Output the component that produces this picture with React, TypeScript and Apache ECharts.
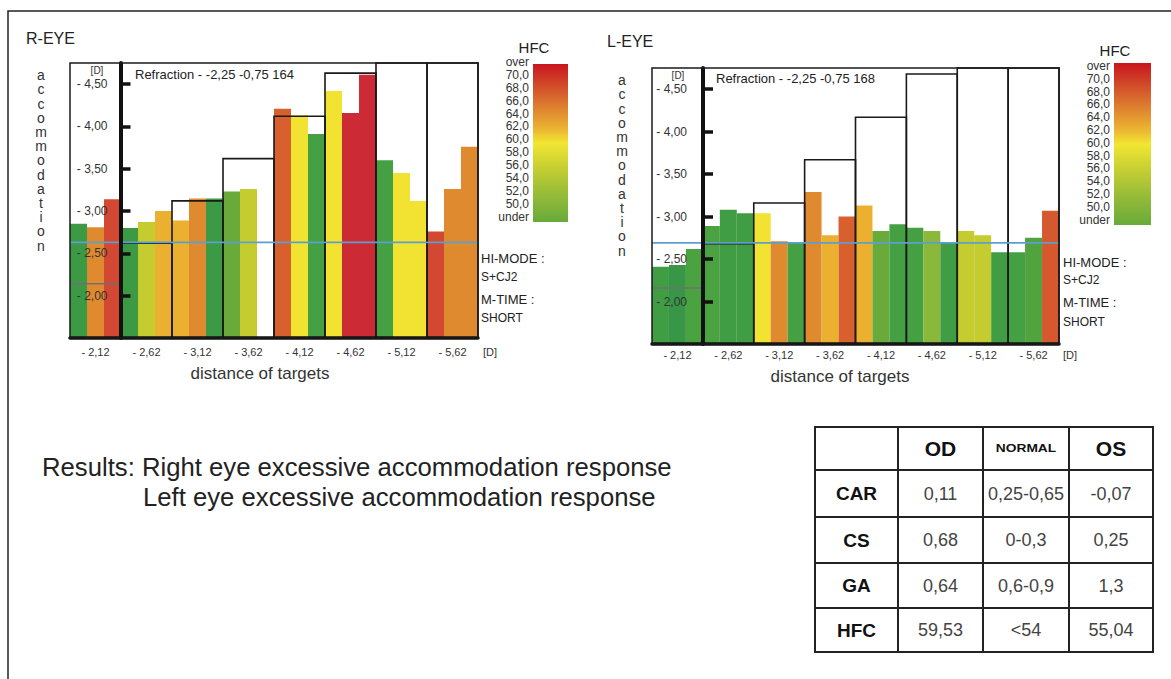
import React, { useEffect, useRef } from 'react';
import * as echarts from 'echarts';

const FONT = '"Liberation Sans", Arial, Helvetica, sans-serif';

// ---------- data ----------
const TARGETS = ['- 2,12', '- 2,62', '- 3,12', '- 3,62', '- 4,12', '- 4,62', '- 5,12', '- 5,62'];
const Y_TICKS = [2, 2.5, 3, 3.5, 4, 4.5];
const Y_MIN = 1.5;
const Y_MAX = 4.75;

// accommodation response (D, magnitude), 3 measurements per target
const R_ACC = [
  [2.85, 2.81, 3.14],
  [2.8, 2.87, 3.0],
  [2.89, 3.15, 3.15],
  [3.23, 3.26, null],
  [4.21, 4.13, 3.91],
  [4.42, 4.16, 4.61],
  [3.6, 3.45, 3.12],
  [2.76, 3.26, 3.76],
];
const R_HFC = [
  [48, 66, 69.5],
  [48, 57, 63.5],
  [63.5, 66, 48],
  [52, 57, null],
  [68, 60, 49],
  [60, 72, 72],
  [49, 60, 60],
  [69.5, 66, 66],
];
const R_TARGET = [2.14, 2.62, 3.12, 3.62, 4.12, 4.63, 5.12, 5.62];
const R_REF = 2.63;

const L_ACC = [
  [2.41, 2.43, 2.62],
  [2.89, 3.08, 3.04],
  [3.04, 2.71, 2.69],
  [3.29, 2.78, 3.0],
  [3.13, 2.83, 2.91],
  [2.87, 2.83, 2.69],
  [2.83, 2.78, 2.58],
  [2.58, 2.75, 3.07],
];
const L_HFC = [
  [48.5, 47.5, 49.5],
  [49.5, 48.5, 48.5],
  [60, 66, 49],
  [66, 63.5, 68],
  [63.5, 52, 49],
  [49, 54, 48.5],
  [57, 57, 48.5],
  [49, 50, 68.5],
];
const L_TARGET = [2.16, 2.68, 3.16, 3.67, 4.17, 4.68, 5.12, 5.62];
const L_REF = 2.69;

const HFC_LABELS = ['over', '70,0', '68,0', '66,0', '64,0', '62,0', '60,0', '58,0', '56,0', '54,0', '52,0', '50,0', 'under'];

const TABLE_HEAD = ['', 'OD', 'NORMAL', 'OS'];
const TABLE_ROWS = ['CAR', 'CS', 'GA', 'HFC'];
const TABLE_OD = ['0,11', '0,68', '0,64', '59,53'];
const TABLE_NORMAL = ['0,25-0,65', '0-0,3', '0,6-0,9', '<54'];
const TABLE_OS = ['-0,07', '0,25', '1,3', '55,04'];

// ---------- colour scale ----------
const HFC_STOPS: [number, string][] = [
  [47, '#339448'],
  [49, '#44a042'],
  [52, '#6aaa3a'],
  [54, '#8ab83a'],
  [57, '#c4cc30'],
  [60, '#f2e232'],
  [63.5, '#ebb030'],
  [66, '#e08a30'],
  [68, '#d8602e'],
  [69.5, '#d24832'],
  [72, '#cc2a35'],
];
function hex(c: string) {
  return [1, 3, 5].map((i) => parseInt(c.slice(i, i + 2), 16));
}
function hfcColor(h: number) {
  if (h <= HFC_STOPS[0][0]) return HFC_STOPS[0][1];
  for (let i = 1; i < HFC_STOPS.length; i++) {
    const [v1, c1] = HFC_STOPS[i];
    if (h <= v1) {
      const [v0, c0] = HFC_STOPS[i - 1];
      const t = (h - v0) / (v1 - v0);
      const a = hex(c0), b = hex(c1);
      const m = a.map((x, j) => Math.round(x + (b[j] - x) * t));
      return `rgb(${m[0]},${m[1]},${m[2]})`;
    }
  }
  return HFC_STOPS[HFC_STOPS.length - 1][1];
}

// ---------- helpers ----------
function T(x: number, y: number, text: string, o: any = {}) {
  const align = o.align ?? 'left';
  const va = o.va ?? 'middle';
  return {
    type: 'text',
    x,
    y,
    z: 100,
    silent: true,
    scaleX: o.scaleX ?? 1,
    style: {
      text,
      fill: o.fill ?? '#333',
      fontSize: o.size ?? 12,
      fontFamily: FONT,
      fontWeight: o.weight ?? 'normal',
      align,
      verticalAlign: va,
      textAlign: align,
      textVerticalAlign: va,
      lineHeight: o.lh,
    },
  };
}

const PANELS = [
  {
    grid: { left: 70, top: 63, width: 408, height: 275 },
    axisOffset: -50.5,
    yLabelMargin: 13,
    xLabelMargin: 8,
    acc: R_ACC,
    hfc: R_HFC,
    target: R_TARGET,
    ref: R_REF,
  },
  {
    grid: { left: 652, top: 68, width: 407, height: 276 },
    axisOffset: -51,
    yLabelMargin: 16,
    xLabelMargin: 5,
    acc: L_ACC,
    hfc: L_HFC,
    target: L_TARGET,
    ref: L_REF,
  },
];

function buildOption() {
  const grid: any[] = [];
  const xAxis: any[] = [];
  const yAxis: any[] = [];
  const series: any[] = [];
  const graphic: any[] = [];

  PANELS.forEach((p, i) => {
    grid.push({ ...p.grid, show: false });
    xAxis.push({
      type: 'category',
      gridIndex: i,
      data: TARGETS,
      boundaryGap: true,
      z: 10,
      axisLine: { lineStyle: { color: '#111', width: 3.5 } },
      axisTick: { inside: true, length: 7, lineStyle: { color: '#111', width: 3 } },
      axisLabel: { interval: 0, color: '#333', fontSize: 11, fontFamily: FONT, margin: p.xLabelMargin },
      splitLine: { show: false },
    });
    yAxis.push({
      type: 'value',
      gridIndex: i,
      min: Y_MIN,
      max: Y_MAX,
      position: 'left',
      offset: p.axisOffset,
      z: 10,
      splitLine: { show: false },
      axisLine: { show: true, lineStyle: { color: '#111', width: 4 } },
      axisTick: { show: true, inside: true, length: 10, customValues: Y_TICKS, lineStyle: { color: '#111', width: 3.5 } },
      axisLabel: {
        customValues: Y_TICKS,
        margin: p.yLabelMargin,
        color: '#333',
        fontSize: 12,
        fontFamily: FONT,
        formatter: (v: number) => '- ' + v.toFixed(2).replace('.', ','),
      },
    });
    for (let j = 0; j < 3; j++) {
      series.push({
        type: 'bar',
        xAxisIndex: i,
        yAxisIndex: i,
        barGap: '0%',
        barCategoryGap: '0%',
        z: 2,
        silent: true,
        data: p.acc.map((g, k) =>
          g[j] == null ? '-' : { value: g[j], itemStyle: { color: hfcColor(p.hfc[k][j] as number) } }
        ),
      });
    }
    // target demand boxes
    series.push({
      type: 'custom',
      xAxisIndex: i,
      yAxisIndex: i,
      z: 5,
      silent: true,
      data: p.target.map((t, k) => [k, t]),
      renderItem: (params: any, api: any) => {
        const cs = params.coordSys;
        const k = api.value(0);
        const v = api.value(1);
        const w = api.size([1, 0])[0];
        const c = api.coord([k, v]);
        const x0 = c[0] - w / 2;
        const x1 = c[0] + w / 2;
        const yTop = Math.max(c[1], cs.y);
        const yBot = cs.y + cs.height;
        if (k === 0) {
          return {
            type: 'line',
            shape: { x1: x0, y1: yTop, x2: x1, y2: yTop },
            style: { stroke: '#707070', lineWidth: 1.5 },
          };
        }
        return {
          type: 'polyline',
          shape: { points: [[x0, yBot], [x0, yTop], [x1, yTop], [x1, yBot]] },
          style: { stroke: '#1a1a1a', lineWidth: 1.6, fill: 'none' },
        };
      },
    });
    // reference (blue) line, drawn above the boxes
    series.push({
      type: 'custom',
      xAxisIndex: i,
      yAxisIndex: i,
      z: 6,
      silent: true,
      data: [[0, p.ref]],
      renderItem: (params: any, api: any) => {
        const cs = params.coordSys;
        const y = api.coord([0, api.value(1)])[1];
        return {
          type: 'line',
          shape: { x1: cs.x, y1: y, x2: cs.x + cs.width, y2: y },
          style: { stroke: '#5c9fcf', lineWidth: 1.8 },
        };
      },
    });
    // frame
    graphic.push({
      type: 'rect',
      z: 90,
      silent: true,
      shape: { x: p.grid.left, y: p.grid.top, width: p.grid.width, height: p.grid.height },
      style: { fill: 'none', stroke: '#1a1a1a', lineWidth: 1.5 },
    });
  });

  // page border (top & left visible)
  graphic.push({
    type: 'rect',
    z: 1,
    silent: true,
    shape: { x: 8, y: 11, width: 1300, height: 800 },
    style: { fill: 'none', stroke: '#222', lineWidth: 1.5 },
  });

  const legendGrad = () =>
    new echarts.graphic.LinearGradient(0, 0, 0, 1, [
      { offset: 0, color: '#c8161e' },
      { offset: 0.15, color: '#d2502a' },
      { offset: 0.3, color: '#e08a30' },
      { offset: 0.42, color: '#ecb832' },
      { offset: 0.5, color: '#f2e632' },
      { offset: 0.65, color: '#c8d032' },
      { offset: 0.82, color: '#96bc38' },
      { offset: 1, color: '#68aa3a' },
    ]);

  const vertical = 'accommodation'.split('').join('\n');

  // ---- R-EYE panel texts ----
  graphic.push(T(26, 38, 'R-EYE', { size: 16, fill: '#222' }));
  graphic.push(T(41, 68, vertical, { size: 14, lh: 14.2, align: 'center', va: 'top', fill: '#333' }));
  graphic.push(T(97, 70, '[D]', { size: 10, align: 'center' }));
  graphic.push(T(135, 74, 'Refraction - -2,25 -0,75 164', { size: 13, fill: '#222' }));
  graphic.push(T(534, 47, 'HFC', { size: 15, align: 'center', fill: '#222' }));
  graphic.push({ type: 'rect', z: 50, silent: true, shape: { x: 533, y: 64, width: 35, height: 158 }, style: { fill: legendGrad() } });
  graphic.push(T(529, 55.5, HFC_LABELS.join('\n'), { size: 12, lh: 12.9, align: 'right', va: 'top', fill: '#333' }));
  graphic.push(T(481, 258, 'HI-MODE :', { size: 13, fill: '#222' }));
  graphic.push(T(481, 277, 'S+CJ2', { size: 12, fill: '#222' }));
  graphic.push(T(481, 299, 'M-TIME :', { size: 13, fill: '#222' }));
  graphic.push(T(481, 318, 'SHORT', { size: 12, fill: '#222' }));
  graphic.push(T(483, 352, '[D]', { size: 11 }));
  graphic.push(T(260, 373, 'distance of targets', { size: 17, align: 'center', fill: '#333' }));

  // ---- L-EYE panel texts ----
  graphic.push(T(607, 41, 'L-EYE', { size: 16, fill: '#222' }));
  graphic.push(T(622, 73, vertical, { size: 14, lh: 14.2, align: 'center', va: 'top', fill: '#333' }));
  graphic.push(T(678, 75, '[D]', { size: 10, align: 'center' }));
  graphic.push(T(716, 78, 'Refraction - -2,25 -0,75 168', { size: 13, fill: '#222' }));
  graphic.push(T(1115, 50, 'HFC', { size: 15, align: 'center', fill: '#222' }));
  graphic.push({ type: 'rect', z: 50, silent: true, shape: { x: 1114, y: 63, width: 37, height: 162 }, style: { fill: legendGrad() } });
  graphic.push(T(1110, 59.6, HFC_LABELS.join('\n'), { size: 12, lh: 12.8, align: 'right', va: 'top', fill: '#333' }));
  graphic.push(T(1063, 262, 'HI-MODE :', { size: 13, fill: '#222' }));
  graphic.push(T(1063, 280, 'S+CJ2', { size: 12, fill: '#222' }));
  graphic.push(T(1063, 302, 'M-TIME :', { size: 13, fill: '#222' }));
  graphic.push(T(1063, 322, 'SHORT', { size: 12, fill: '#222' }));
  graphic.push(T(1063, 355, '[D]', { size: 11 }));
  graphic.push(T(840, 376, 'distance of targets', { size: 17, align: 'center', fill: '#333' }));

  // ---- results ----
  graphic.push(T(42, 467, 'Results: Right eye excessive accommodation response', { size: 25.7, fill: '#222' }));
  graphic.push(T(143, 497, 'Left eye excessive accommodation response', { size: 25.7, fill: '#222' }));

  // ---- table ----
  const colX = [815, 898, 983, 1069, 1153];
  const rowY = [427, 470, 517, 563, 608, 652];
  colX.forEach((x) =>
    graphic.push({ type: 'line', z: 60, silent: true, shape: { x1: x, y1: rowY[0], x2: x, y2: rowY[5] }, style: { stroke: '#222', lineWidth: 2 } })
  );
  rowY.forEach((y) =>
    graphic.push({ type: 'line', z: 60, silent: true, shape: { x1: colX[0] - 1, y1: y, x2: colX[4] + 1, y2: y }, style: { stroke: '#222', lineWidth: 2 } })
  );
  const cx = (c: number) => (colX[c] + colX[c + 1]) / 2;
  const cy = (r: number) => (rowY[r] + rowY[r + 1]) / 2;
  TABLE_HEAD.forEach((h, c) => {
    if (!h) return;
    if (h === 'NORMAL') graphic.push(T(cx(c), cy(0), h, { size: 11, weight: 'bold', align: 'center', fill: '#111', scaleX: 1.25 }));
    else graphic.push(T(cx(c), cy(0), h, { size: 21, weight: 'bold', align: 'center', fill: '#111' }));
  });
  TABLE_ROWS.forEach((r, i) => {
    graphic.push(T(cx(0), cy(i + 1), r, { size: 19, weight: 'bold', align: 'center', fill: '#111' }));
    graphic.push(T(cx(1), cy(i + 1), TABLE_OD[i], { size: 18, align: 'center', fill: '#444' }));
    graphic.push(T(cx(2), cy(i + 1), TABLE_NORMAL[i], { size: 18, align: 'center', fill: '#444' }));
    graphic.push(T(cx(3), cy(i + 1), TABLE_OS[i], { size: 18, align: 'center', fill: '#444' }));
  });

  return {
    animation: false,
    backgroundColor: '#fff',
    grid,
    xAxis,
    yAxis,
    series,
    graphic: { elements: graphic },
  };
}

export default function App() {
  const ref = useRef<HTMLDivElement>(null);
  useEffect(() => {
    const chart = echarts.init(ref.current!, null, { renderer: 'svg' });
    chart.setOption(buildOption() as any);
    return () => chart.dispose();
  }, []);
  return (
    <div
      ref={ref}
      style={{ position: 'fixed', left: 0, top: 0, width: 1171, height: 679, background: '#fff' }}
    />
  );
}
